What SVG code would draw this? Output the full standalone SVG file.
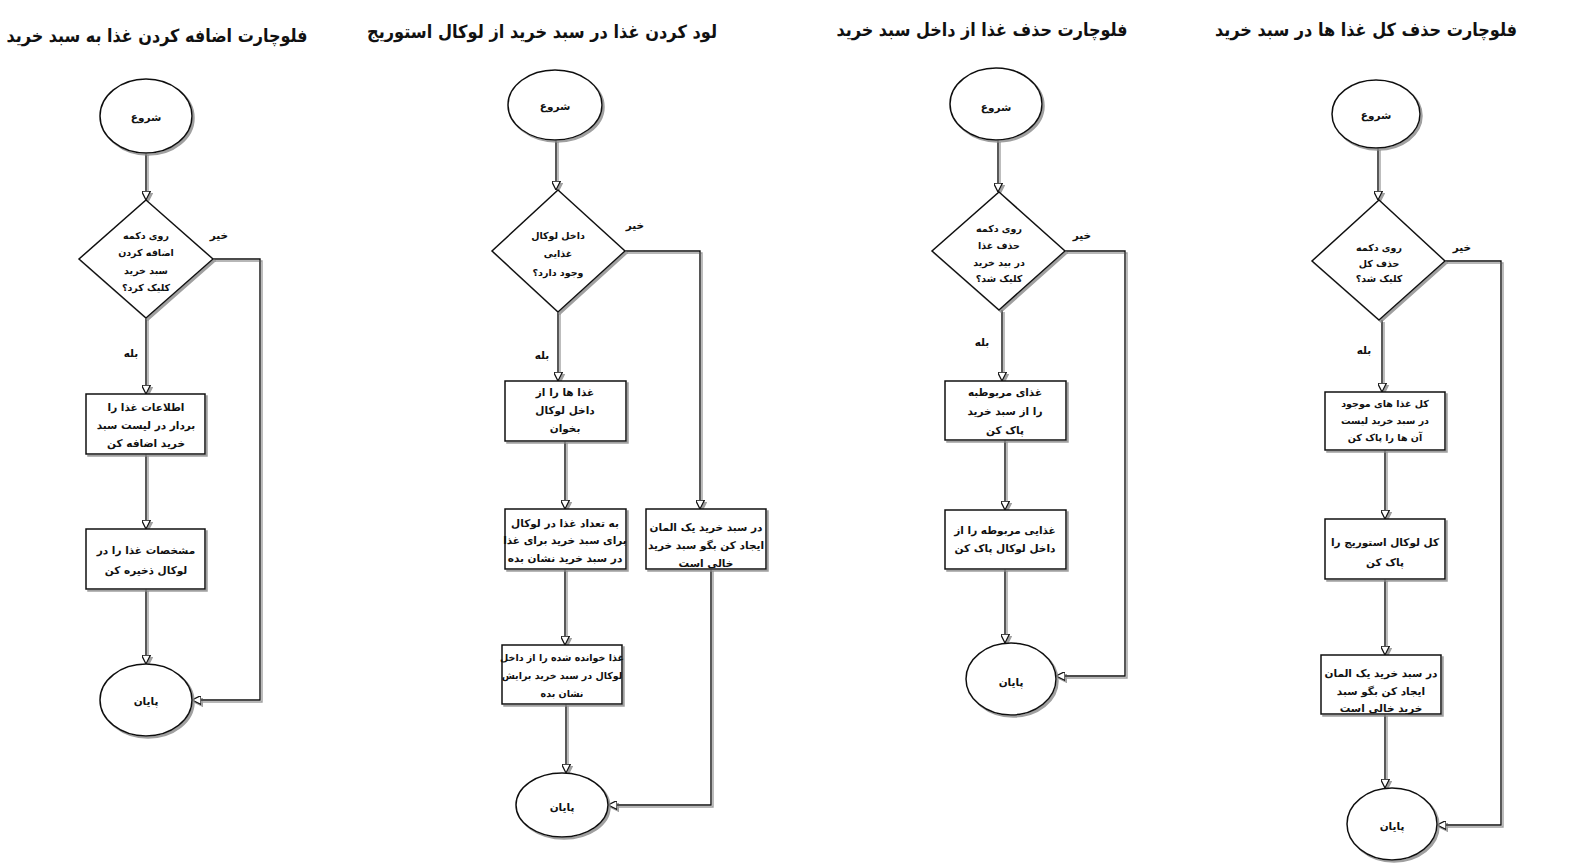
<svg xmlns="http://www.w3.org/2000/svg" width="1590" height="865" viewBox="0 0 1590 865">
<style>
text{font-family:"DejaVu Sans","Liberation Sans",sans-serif;font-weight:bold;fill:#111;text-anchor:middle;direction:rtl}
.title{font-size:18px}
.t{font-size:10.5px}
.s{font-size:9.5px}
.lbl{font-size:10.5px}
.shape{fill:#fff;stroke:#111;stroke-width:1.5;filter:url(#sh)}
.conn{fill:none;stroke:#111;stroke-width:1.4;filter:url(#sh)}
</style>
<defs>
<filter id="sh" filterUnits="userSpaceOnUse" x="0" y="0" width="1590" height="865">
<feDropShadow dx="2" dy="2" stdDeviation="0.6" flood-color="#888" flood-opacity="0.8"/>
</filter>
<marker id="arr" viewBox="0 0 10 10" refX="10" refY="5" markerWidth="9" markerHeight="9" orient="auto" markerUnits="userSpaceOnUse">
<path d="M0,0 L10,5 L0,10 Z" fill="#fff" stroke="#111" stroke-width="1.4"/>
</marker>
</defs>
<rect width="1590" height="865" fill="#fff"/>

<g id="titles">
<text class="title" x="157" y="42" textLength="301" lengthAdjust="spacingAndGlyphs">فلوچارت اضافه کردن غذا به سبد خرید</text>
<text class="title" x="542" y="38" textLength="350" lengthAdjust="spacingAndGlyphs">لود کردن غذا در سبد خرید از لوکال استوریج</text>
<text class="title" x="982" y="36" textLength="291" lengthAdjust="spacingAndGlyphs">فلوچارت حذف غذا از داخل سبد خرید</text>
<text class="title" x="1366" y="36" textLength="302" lengthAdjust="spacingAndGlyphs">فلوچارت حذف کل غذا ها در سبد خرید</text>
</g>

<g id="connectors">
<path class="conn" marker-end="url(#arr)" d="M146,153 V200"/>
<path class="conn" marker-end="url(#arr)" d="M146,318 V394"/>
<path class="conn" marker-end="url(#arr)" d="M146,454 V529"/>
<path class="conn" marker-end="url(#arr)" d="M146,589 V664"/>
<path class="conn" marker-end="url(#arr)" d="M213,259 H260 V700 H192"/>

<path class="conn" marker-end="url(#arr)" d="M556,140 V190"/>
<path class="conn" marker-end="url(#arr)" d="M558,312 V381"/>
<path class="conn" marker-end="url(#arr)" d="M565,441 V509"/>
<path class="conn" marker-end="url(#arr)" d="M565,569 V645"/>
<path class="conn" marker-end="url(#arr)" d="M566,704 V773"/>
<path class="conn" marker-end="url(#arr)" d="M625,251 H700 V509"/>
<path class="conn" marker-end="url(#arr)" d="M711,569 V805 H608"/>

<path class="conn" marker-end="url(#arr)" d="M998,140 V192"/>
<path class="conn" marker-end="url(#arr)" d="M1002,310 V381"/>
<path class="conn" marker-end="url(#arr)" d="M1005,440 V510"/>
<path class="conn" marker-end="url(#arr)" d="M1005,569 V643"/>
<path class="conn" marker-end="url(#arr)" d="M1065,251 H1125 V676 H1056"/>

<path class="conn" marker-end="url(#arr)" d="M1378,148 V200"/>
<path class="conn" marker-end="url(#arr)" d="M1382,320 V392"/>
<path class="conn" marker-end="url(#arr)" d="M1385,450 V519"/>
<path class="conn" marker-end="url(#arr)" d="M1385,579 V655"/>
<path class="conn" marker-end="url(#arr)" d="M1385,714 V788"/>
<path class="conn" marker-end="url(#arr)" d="M1445,261 H1501 V825 H1437"/>

<text class="lbl" x="219" y="239">خیر</text>
<text class="lbl" x="131" y="357">بله</text>
<text class="lbl" x="635" y="229">خیر</text>
<text class="lbl" x="542" y="359">بله</text>
<text class="lbl" x="1082" y="239">خیر</text>
<text class="lbl" x="982" y="346">بله</text>
<text class="lbl" x="1462" y="251">خیر</text>
<text class="lbl" x="1364" y="354">بله</text>
</g>

<!-- Chart 1 -->
<g id="c1-start"><ellipse class="shape" cx="146" cy="116" rx="46" ry="37"/><text class="t" x="146" y="121">شروع</text></g>
<g id="c1-decision"><polygon class="shape" points="146,200 213,259 146,318 79,259"/>
<text class="s" x="146" y="239">روی دکمه</text><text class="s" x="146" y="256">اضافه کردن</text><text class="s" x="146" y="274">سبد خرید</text><text class="s" x="146" y="291">کلیک کرد؟</text></g>
<g id="c1-box1"><rect class="shape" x="86" y="394" width="119" height="60"/>
<text class="t" x="146" y="411">اطلاعات غذا را</text><text class="t" x="146" y="429">بردار در لیست سبد</text><text class="t" x="146" y="447">خرید اضافه کن</text></g>
<g id="c1-box2"><rect class="shape" x="86" y="529" width="119" height="60"/>
<text class="t" x="146" y="554">مشخصات غذا را در</text><text class="t" x="146" y="574">لوکال ذخیره کن</text></g>
<g id="c1-end"><ellipse class="shape" cx="146" cy="700" rx="46" ry="36"/><text class="t" x="146" y="705">پایان</text></g>

<!-- Chart 2 -->
<g id="c2-start"><ellipse class="shape" cx="555" cy="105" rx="47" ry="35"/><text class="t" x="555" y="110">شروع</text></g>
<g id="c2-decision"><polygon class="shape" points="558,190 625,251 558,312 492,251"/>
<text class="s" x="558" y="239">داخل لوکال</text><text class="s" x="558" y="257">غذایی</text><text class="s" x="558" y="276">وجود دارد؟</text></g>
<g id="c2-box1"><rect class="shape" x="505" y="381" width="121" height="60"/>
<text class="t" x="565" y="396">غذا ها را از</text><text class="t" x="565" y="414">داخل لوکال</text><text class="t" x="565" y="432">بخوان</text></g>
<g id="c2-box2"><rect class="shape" x="505" y="509" width="121" height="60"/>
<text class="t" x="565" y="527">به تعداد غذا در لوکال</text><text class="t" x="565" y="544">برای سبد خرید برای غذا</text><text class="t" x="565" y="562">در سبد خرید نشان بده</text></g>
<g id="c2-box3"><rect class="shape" x="646" y="509" width="120" height="60"/>
<text class="t" x="706" y="531">در سبد خرید یک المان</text><text class="t" x="706" y="549">ایجاد کن بگو سبد خرید</text><text class="t" x="706" y="567">خالی است</text></g>
<g id="c2-box4"><rect class="shape" x="502" y="645" width="120" height="59"/>
<text class="s" x="562" y="661">غذا خوانده شده را از داخل</text><text class="s" x="562" y="679">لوکال در سبد خرید برایش</text><text class="s" x="562" y="697">نشان بده</text></g>
<g id="c2-end"><ellipse class="shape" cx="562" cy="805" rx="46" ry="32"/><text class="t" x="562" y="811">پایان</text></g>

<!-- Chart 3 -->
<g id="c3-start"><ellipse class="shape" cx="996" cy="104" rx="46" ry="36"/><text class="t" x="996" y="111">شروع</text></g>
<g id="c3-decision"><polygon class="shape" points="999,192 1065,251 999,310 932,251"/>
<text class="s" x="999" y="232">روی دکمه</text><text class="s" x="999" y="249">حذف غذا</text><text class="s" x="999" y="266">در بید خرید</text><text class="s" x="999" y="282">کلیک شد؟</text></g>
<g id="c3-box1"><rect class="shape" x="945" y="381" width="121" height="59"/>
<text class="t" x="1005" y="396">غذای مربوطبه</text><text class="t" x="1005" y="415">را از سبد خرید</text><text class="t" x="1005" y="434">پاک کن</text></g>
<g id="c3-box2"><rect class="shape" x="945" y="510" width="121" height="59"/>
<text class="t" x="1005" y="534">غذایی مربوطه  را از</text><text class="t" x="1005" y="552">داخل لوکال پاک کن</text></g>
<g id="c3-end"><ellipse class="shape" cx="1011" cy="679" rx="45" ry="36"/><text class="t" x="1011" y="686">پایان</text></g>

<!-- Chart 4 -->
<g id="c4-start"><ellipse class="shape" cx="1376" cy="114" rx="44" ry="34"/><text class="t" x="1376" y="119">شروع</text></g>
<g id="c4-decision"><polygon class="shape" points="1379,200 1445,261 1379,320 1312,261"/>
<text class="s" x="1379" y="251">روی دکمه</text><text class="s" x="1379" y="267">حذف کل</text><text class="s" x="1379" y="282">کلیک شد؟</text></g>
<g id="c4-box1"><rect class="shape" x="1325" y="392" width="120" height="58"/>
<text class="s" x="1385" y="407">کل غذا های موجود</text><text class="s" x="1385" y="424">در سبد خرید لیست</text><text class="s" x="1385" y="441">آن ها را پاک کن</text></g>
<g id="c4-box2"><rect class="shape" x="1325" y="519" width="120" height="60"/>
<text class="t" x="1385" y="546">کل لوکال استوریج را</text><text class="t" x="1385" y="566">پاک کن</text></g>
<g id="c4-box3"><rect class="shape" x="1321" y="655" width="120" height="59"/>
<text class="t" x="1381" y="677">در سبد خرید یک المان</text><text class="t" x="1381" y="695">ایجاد کن بگو سبد</text><text class="t" x="1381" y="712">خرید خالی است</text></g>
<g id="c4-end"><ellipse class="shape" cx="1392" cy="824" rx="45" ry="36"/><text class="t" x="1392" y="830">پایان</text></g>
</svg>
